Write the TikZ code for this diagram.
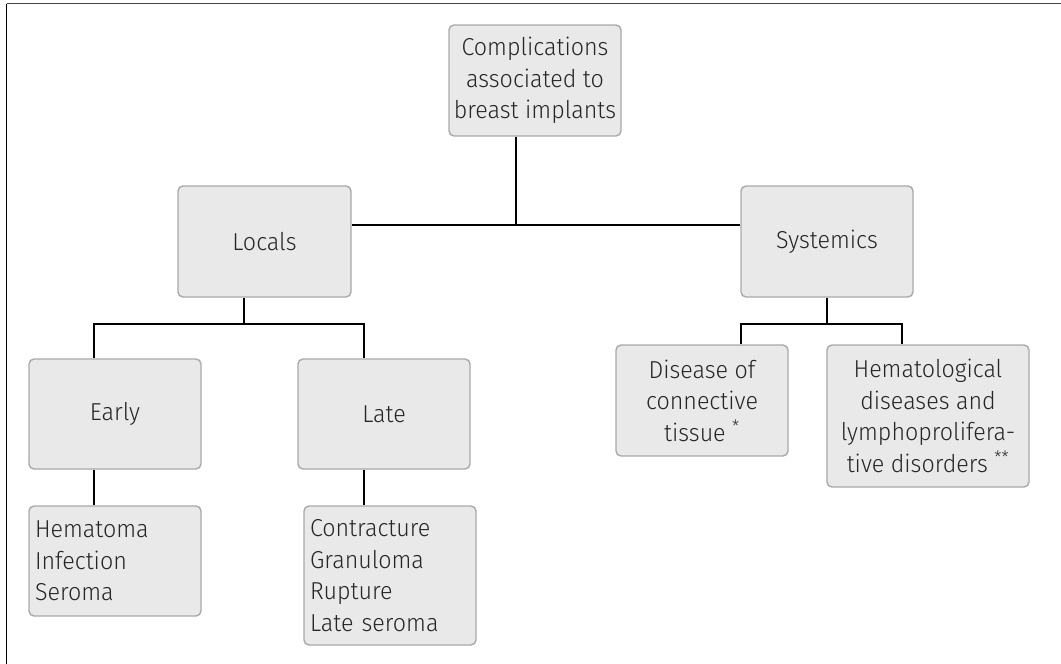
\documentclass[tikz,border=0pt]{standalone}
\usepackage{fontspec}
\setmainfont{Fira Sans}[UprightFont={* Light}, FakeStretch=0.95]
\usetikzlibrary{calc}
\definecolor{boxfill}{HTML}{E9E9E9}
\definecolor{boxdraw}{HTML}{A9A9A9}
\definecolor{framec}{HTML}{444444}
\begin{document}
\begin{tikzpicture}[x=1pt,y=-1pt,
  box/.style={draw=boxdraw, fill=boxfill, line width=1.4pt, rounded corners=5pt,
    inner sep=0pt, align=center, font=\fontsize{24.5}{31.5}\selectfont, text=black!85},
  listbox/.style={box, align=left, text width=#1, inner xsep=6pt},
  link/.style={line width=1.8pt, black}]
\useasboundingbox (0,0) rectangle (1061,664);
\draw[framec, line width=1.6pt] (6.5,3.5) -- (1061,3.5);
\draw[black, line width=1.4pt] (6.5,3.5) -- (6.5,664);

\node[box, minimum width=172pt, minimum height=111pt] (top) at (535,80.5)
  {Complications\\associated to\\breast implants};
\node[box, minimum width=173pt, minimum height=111pt] (locals) at (264.5,241.5) {Locals};
\node[box, minimum width=172pt, minimum height=111pt] (sys) at (827,241.5) {Systemics};
\node[box, minimum width=172pt, minimum height=110pt] (early) at (115,414) {Early};
\node[box, minimum width=172pt, minimum height=110pt] (late) at (384,414) {Late};
\node[listbox=160pt, minimum height=110pt] (elist) at (115,561)
  {Hematoma\\Infection\\Seroma};
\node[listbox=160pt, minimum height=139pt] (llist) at (390,575.5)
  {Contracture\\Granuloma\\Rupture\\Late seroma};
\node[box, minimum width=172pt, minimum height=111pt] (dis) at (702,400.5)
  {Disease of\\connective\\tissue \textsuperscript{*}};
\node[box, minimum width=202pt, minimum height=142pt] (hem) at (928,416)
  {Hematological\\diseases and\\lymphoprolifera-\\tive disorders \textsuperscript{**}};

\coordinate (j) at (516,225);
\coordinate (lj) at (244,324);
\coordinate (sj) at (827,324);

\draw[link] (locals.east |- j) -- (sys.west |- j);
\draw[link] (top.south -| j) -- (j);
\draw[link] (locals.south -| lj) -- (lj);
\draw[link] ($(early.north)+(-21,0)$) |- (lj) -| ($(late.north)+(-20,0)$);
\draw[link] ($(early.south)+(-21,0)$) -- ($(elist.north)+(-21,0)$);
\draw[link] ($(late.south)+(-20,0)$) -- ($(llist.north)+(-26,0)$);
\draw[link] (sys.south) -- (sj);
\draw[link] ($(dis.north)+(39,0)$) |- (sj) -| ($(hem.north)+(-26,0)$);
\end{tikzpicture}
\end{document}
